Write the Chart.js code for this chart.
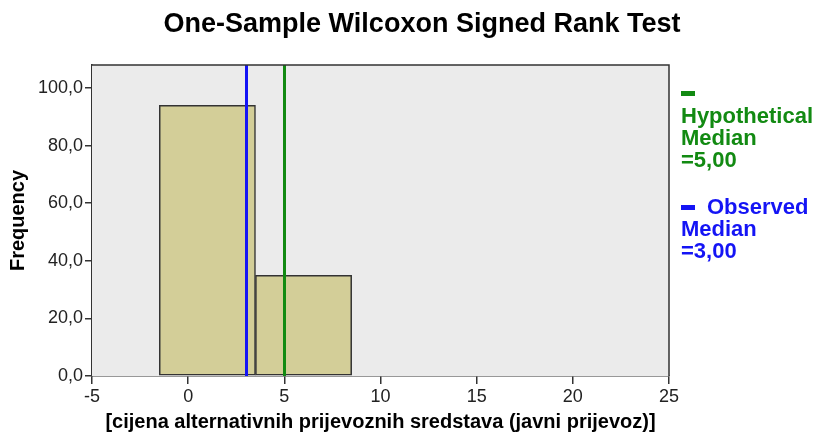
<!DOCTYPE html>
<html>
<head>
<meta charset="utf-8">
<script src="https://cdn.jsdelivr.net/npm/chart.js@4.4.0/dist/chart.umd.min.js"></script>
<style>
  body { margin: 0; background: #fff; }
  canvas { display: block; }
</style>
</head>
<body>
<canvas id="Chart-wilcoxon" width="818" height="436"></canvas>
<script>
// histogram bins (centre of each bin, width 5) and counts
var binCenters = [1, 6];
var frequencies = [94, 35];
var hypotheticalMedian = 5;
var observedMedian = 3;
var yMax = 108;
var xMin = -5, xMax = 25;

var fontFam = '"Liberation Sans", Arial, sans-serif';
var green = '#128a12';
var blue = '#1414f5';

function fmtComma(v, dec) {
  return v.toFixed(dec).replace('.', ',');
}

var decorPlugin = {
  id: 'decor',
  beforeDatasetsDraw: function(chart) {
    var c = chart.ctx, a = chart.chartArea;
    c.save();
    c.fillStyle = '#ebebeb';
    c.fillRect(a.left, a.top, a.right - a.left, a.bottom - a.top);
    c.restore();
  },
  afterDatasetsDraw: function(chart) {
    var c = chart.ctx, a = chart.chartArea;
    var xs = chart.scales.x;
    c.save();
    c.lineWidth = 3;
    [[observedMedian, blue], [hypotheticalMedian, green]].forEach(function(m) {
      var px = Math.round(xs.getPixelForValue(m[0])) + 0.5;
      c.strokeStyle = m[1];
      c.beginPath();
      c.moveTo(px, a.top);
      c.lineTo(px, a.bottom);
      c.stroke();
    });
    // top and right frame
    c.strokeStyle = '#333';
    c.lineWidth = 1.5;
    c.beginPath();
    c.moveTo(a.left, a.top);
    c.lineTo(a.right, a.top);
    c.lineTo(a.right, a.bottom);
    c.stroke();
    c.restore();
  },
  afterDraw: function(chart) {
    var c = chart.ctx;
    c.save();
    c.fillStyle = '#000';
    c.font = 'bold 27px ' + fontFam;
    c.textAlign = 'center';
    c.textBaseline = 'middle';
    c.fillText('One-Sample Wilcoxon Signed Rank Test', 422, 25);

    // legend
    c.textAlign = 'left';
    c.font = 'bold 22px ' + fontFam;
    c.fillStyle = green;
    c.fillRect(681, 91, 14, 5);
    c.fillText('Hypothetical', 681, 117);
    c.fillText('Median', 681, 139);
    c.fillText('=' + fmtComma(hypotheticalMedian, 2), 681, 161);
    c.fillStyle = blue;
    c.fillRect(681, 205, 14, 5);
    c.fillText('Observed', 707, 208);
    c.fillText('Median', 681, 230);
    c.fillText('=' + fmtComma(observedMedian, 2), 681, 252);
    c.restore();
  }
};

var ctx = document.getElementById('Chart-wilcoxon').getContext('2d');
new Chart(ctx, {
  type: 'bar',
  data: {
    datasets: [{
      data: binCenters.map(function(x, i) { return { x: x, y: frequencies[i] }; }),
      backgroundColor: '#d3ce98',
      borderColor: '#333',
      borderWidth: 1.5,
      borderSkipped: false,
      barPercentage: 1,
      categoryPercentage: 1
    }]
  },
  options: {
    responsive: false,
    animation: false,
    events: [],
    layout: { padding: { top: 65, right: 149, left: 0, bottom: 0 } },
    plugins: {
      legend: { display: false },
      tooltip: { enabled: false }
    },
    scales: {
      x: {
        type: 'linear',
        min: xMin,
        max: xMax,
        offset: false,
        afterFit: function(s) { s.height = 60; },
        ticks: {
          stepSize: 5,
          color: '#222',
          padding: 2,
          maxRotation: 0,
          font: { family: fontFam, size: 18 }
        },
        grid: { offset: false, drawOnChartArea: false, color: '#333', tickLength: 8, lineWidth: 1.5 },
        border: { color: '#333', width: 1.5 },
        title: {
          display: true,
          text: '[cijena alternativnih prijevoznih sredstava (javni prijevoz)]',
          color: '#000',
          font: { family: fontFam, size: 20, weight: 'bold' },
          padding: { top: 0, bottom: 2 }
        }
      },
      y: {
        min: 0,
        max: yMax,
        afterFit: function(s) { s.width = 92; },
        ticks: {
          stepSize: 20,
          includeBounds: false,
          color: '#222',
          padding: 2,
          font: { family: fontFam, size: 18 },
          callback: function(v) { return fmtComma(v, 1); }
        },
        grid: { drawOnChartArea: false, color: '#333', tickLength: 7, lineWidth: 1.5 },
        border: { color: '#333', width: 1.5 },
        title: {
          display: true,
          text: 'Frequency',
          color: '#000',
          font: { family: fontFam, size: 20, weight: 'bold' },
          padding: { top: 6, bottom: 0 }
        }
      }
    }
  },
  plugins: [decorPlugin]
});
</script>
</body>
</html>
